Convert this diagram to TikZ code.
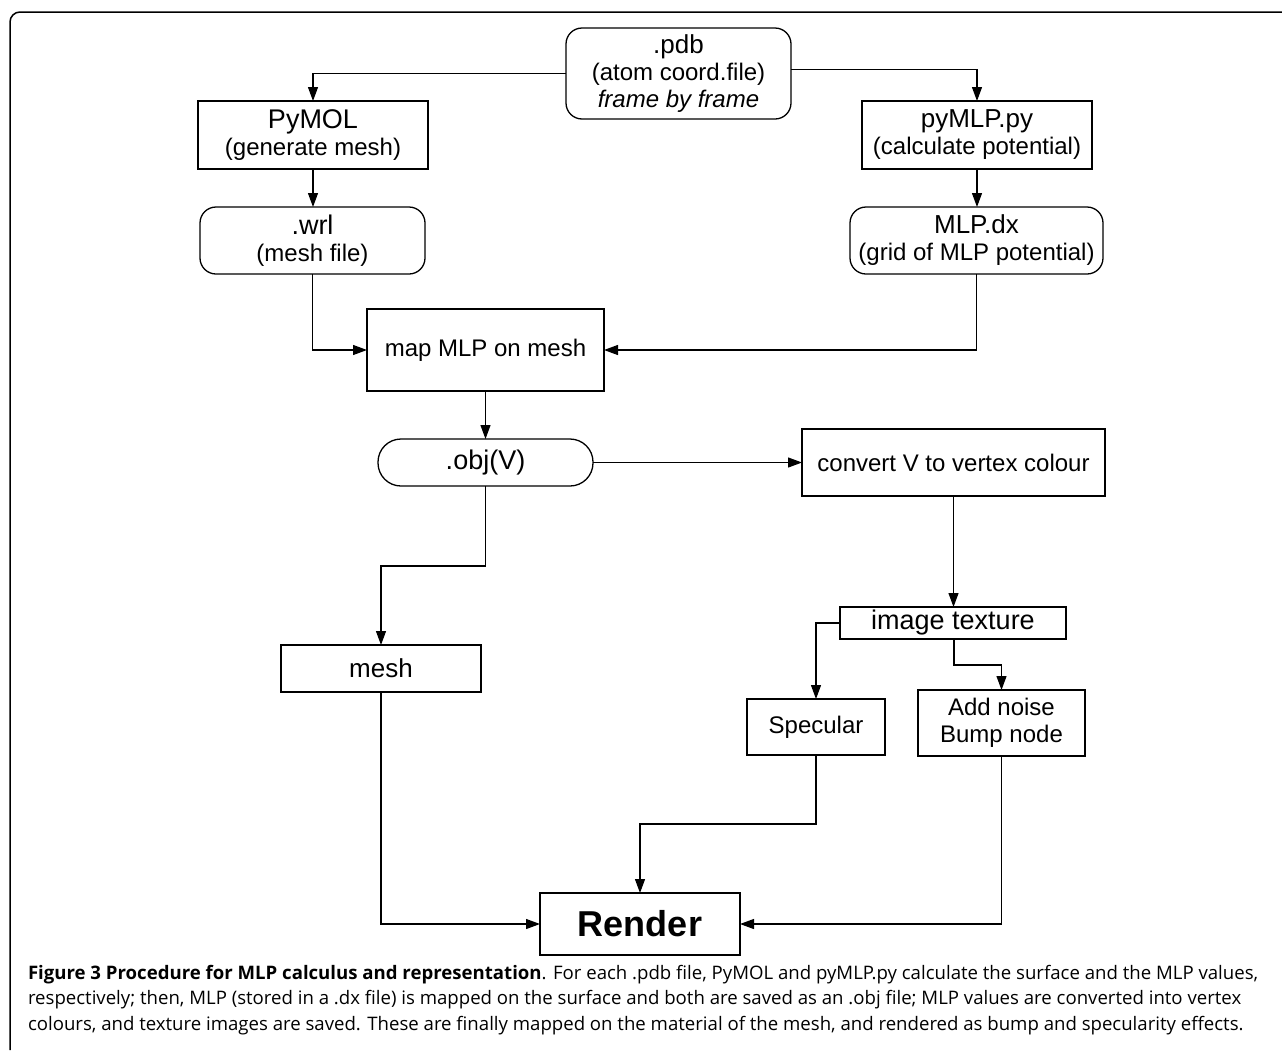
\documentclass[tikz,border=0pt]{standalone}
\usepackage{fontspec}
\setmainfont{Liberation Sans}
\newfontfamily\capfont{Open Sans}
\usetikzlibrary{arrows.meta}
\newcommand{\fsz}[2]{\fontsize{#1pt}{#2pt}\selectfont}
\begin{document}
\begin{tikzpicture}[x=1pt,y=-1pt,
  every node/.style={inner sep=0pt, outer sep=0pt, text=black},
  boxn/.style={draw, line width=1.3pt, rectangle, align=center, font=\fsz{24}{27}},
  rbox/.style={boxn, rounded corners=16pt},
  conn/.style={line width=1.2pt, -{Triangle[length=14pt,width=10pt]}},
  capline/.style={anchor=base west, font=\capfont\fsz{18.6}{25}}
]
\useasboundingbox (0,0) rectangle (1282,1050);
\draw[line width=1.5pt, rounded corners=10pt] (10,1050) -- (10,12) -- (1282,12);

\node[rbox, minimum width=225pt, minimum height=91pt] (pdb) at (678.5,73.5)
  {{\fsz{26}{27}.pdb}\\(atom coord.file)\\\itshape frame by frame};
\node[boxn, minimum width=230pt, minimum height=68pt] (pymol) at (313,135)
  {{\fsz{27}{27}PyMOL}\\(generate mesh)};
\node[boxn, minimum width=230pt, minimum height=68pt] (pymlp) at (977,135)
  {{\fsz{26}{27}pyMLP.py}\\(calculate potential)};
\node[rbox, minimum width=225pt, minimum height=67pt] (wrl) at (312.5,240.5)
  {{\fsz{27}{27}.wrl}\\(mesh file)};
\node[rbox, minimum width=253pt, minimum height=67pt] (mlpdx) at (976.5,240.5)
  {{\fsz{26}{27}MLP.dx}\\(grid of MLP potential)};
\node[boxn, minimum width=237pt, minimum height=82pt] (map) at (485.5,350)
  {map MLP on mesh};
\node[rbox, rounded corners=23pt, minimum width=215pt, minimum height=47pt, font=\fsz{27}{27}] (obj) at (485.5,462.5)
  {.obj(V)};
\node[boxn, minimum width=303pt, minimum height=67pt] (conv) at (953.5,462.5)
  {convert V to vertex colour};
\node[boxn, minimum width=226pt, minimum height=32pt, font=\fsz{27}{27}] (tex) at (953,623)
  {image texture};
\node[boxn, minimum width=200pt, minimum height=47pt, font=\fsz{26}{27}] (mesh) at (381,668.5)
  {mesh};
\node[boxn, minimum width=138pt, minimum height=56pt] (spec) at (816,727)
  {Specular};
\node[boxn, minimum width=167pt, minimum height=66pt] (noise) at (1001.5,723)
  {Add noise\\Bump node};
\node[boxn, minimum width=200pt, minimum height=62pt, font=\fsz{36}{36}\bfseries] (render) at (640,924)
  {Render};

\draw[conn] (pdb.west) -| (pymol.north);
\draw[conn] ([yshift=4pt]pdb.east) -| (pymlp.north);
\draw[conn] (pymol.south) -- (pymol.south |- wrl.north);
\draw[conn] (pymlp.south) -- (pymlp.south |- mlpdx.north);
\draw[conn] (wrl.south) |- (map.west);
\draw[conn] (mlpdx.south) |- (map.east);
\draw[conn] (map.south) -- (obj.north);
\draw[conn] (obj.east) -- (conv.west);
\coordinate (objturn) at (485.5,566);
\draw[conn] (obj.south) -- (objturn) -| (mesh.north);
\draw[conn] (conv.south) -- (conv.south |- tex.north);
\draw[conn] (tex.west) -| (spec.north);
\coordinate (texturn) at (954,665);
\draw[conn] (tex.south -| texturn) -- (texturn) -| (noise.north);
\coordinate (specturn) at (816,824);
\draw[conn] (spec.south) -- (specturn) -| (render.north);
\draw[conn] (mesh.south) |- (render.west);
\draw[conn] (noise.south) |- (render.east);

\node[capline] (cap1) at (28,979) {{\bfseries Figure 3 Procedure for MLP calculus and representation}. For each .pdb file, PyMOL and pyMLP.py calculate the surface and the MLP values,};
\node[capline] (cap2) at (28,1004.5) {respectively; then, MLP (stored in a .dx file) is mapped on the surface and both are saved as an .obj file; MLP values are converted into vertex};
\node[capline] (cap3) at (28,1030) {colours, and texture images are saved. These are finally mapped on the material of the mesh, and rendered as bump and specularity effects.};
\end{tikzpicture}
\end{document}
